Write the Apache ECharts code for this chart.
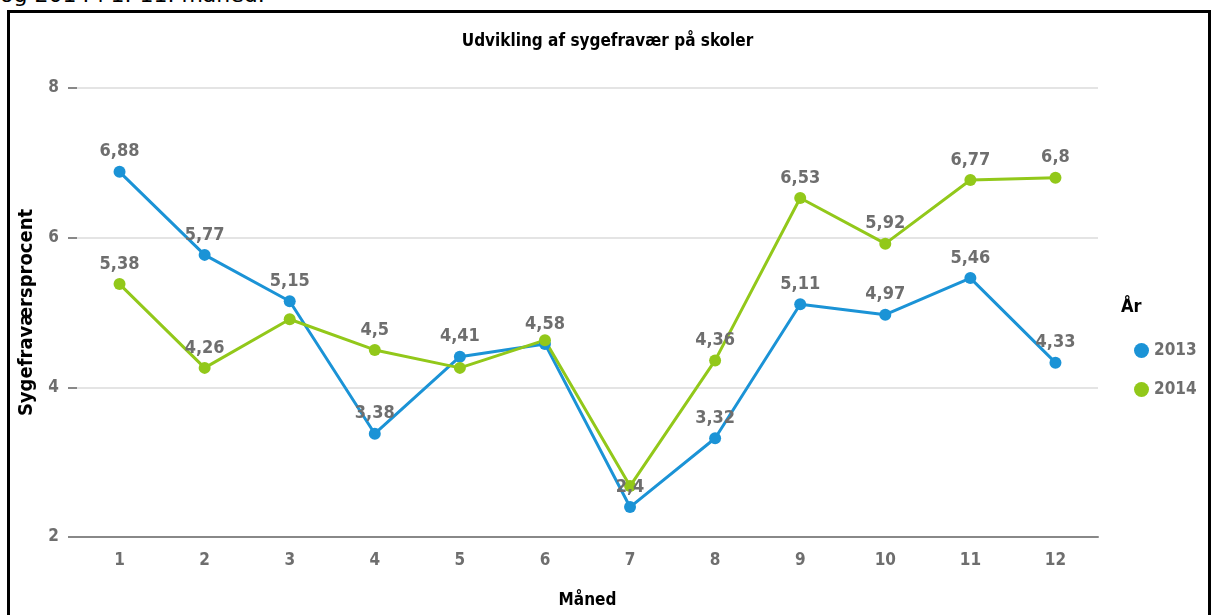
<!DOCTYPE html>
<html>
<head>
<meta charset="utf-8">
<title>Udvikling af sygefravær på skoler</title>
<script src="https://cdn.jsdelivr.net/npm/echarts@6/dist/echarts.min.js"></script>
<style>
  html, body { margin: 0; padding: 0; background: #fff; overflow: hidden; }
  #intro { position: absolute; left: 0; top: -18px; font: 22px/26px "DejaVu Sans", sans-serif; color: #000; white-space: nowrap; }
  #frame { position: absolute; left: 7px; top: 10px; width: 1204px; height: 700px; border: 3px solid #000; box-sizing: border-box; }
  #chart { position: absolute; left: 0; top: 0; width: 1215px; height: 615px; }
</style>
</head>
<body>
<div id="intro">og 2014 i 1.-11. måned.</div>
<div id="frame"></div>
<div id="chart"></div>
<script>
// data
const months = ['1', '2', '3', '4', '5', '6', '7', '8', '9', '10', '11', '12'];
const years = ['2013', '2014'];
const fravaer2013 = [6.88, 5.77, 5.15, 3.38, 4.41, 4.58, 2.4, 3.32, 5.11, 4.97, 5.46, 4.33];
const fravaer2014 = [5.38, 4.26, 4.91, 4.5, 4.26, 4.63, 2.68, 4.36, 6.53, 5.92, 6.77, 6.8];
// labels that the original hides because they overlap
const hidden2014 = [2, 4, 5, 6];

const narrow = "'DejaVu Sans Condensed', sans-serif";
const blue = '#1b93d6';
const green = '#92c81a';

function komma(v) {
  return String(v).replace('.', ',');
}

function buildData(values, hidden) {
  return values.map(function (v, i) {
    if (hidden.includes(i)) {
      return {value: v, label: {show: false}};
    }
    return v;
  });
}

const labelStyle = {
  show: true,
  position: 'top',
  distance: 5,
  fontFamily: narrow,
  fontSize: 18,
  fontWeight: 'bold',
  color: '#6e6e6e',
  formatter: function (p) { return komma(p.value); }
};

const myChart = echarts.init(document.getElementById('chart'), null, {renderer: 'canvas'});

myChart.setOption({
  animation: false,
  title: [{
    text: 'Udvikling af sygefravær på skoler',
    left: 'center',
    top: 28,
    textStyle: {fontFamily: narrow, fontSize: 17, fontWeight: 'bold', color: '#000'}
  }, {
    text: 'År',
    left: 1116,
    top: 293,
    textStyle: {fontFamily: narrow, fontSize: 18, fontWeight: 'bold', color: '#000'}
  }],
  legend: {
    data: years,
    orient: 'vertical',
    left: 1129,
    top: 337,
    itemWidth: 15,
    itemHeight: 15,
    itemGap: 22,
    icon: 'circle',
    textStyle: {fontFamily: narrow, fontSize: 17, fontWeight: 'bold', color: '#6e6e6e'}
  },
  grid: {
    left: 77,
    top: 88,
    width: 1021,
    height: 449
  },
  xAxis: {
    type: 'category',
    data: months,
    boundaryGap: true,
    name: 'Måned',
    nameLocation: 'middle',
    nameGap: 55,
    nameTextStyle: {fontFamily: narrow, fontSize: 17, fontWeight: 'bold', color: '#000'},
    axisLine: {lineStyle: {color: '#888', width: 2}},
    axisTick: {alignWithLabel: true, length: 8, lineStyle: {color: '#888', width: 2}},
    axisLabel: {fontFamily: narrow, fontSize: 17, fontWeight: 'bold', color: '#6e6e6e', margin: 15}
  },
  yAxis: {
    type: 'value',
    min: 2,
    max: 8,
    interval: 2,
    name: 'Sygefraværsprocent',
    nameLocation: 'middle',
    nameGap: 40,
    nameTextStyle: {fontFamily: narrow, fontSize: 20, fontWeight: 'bold', color: '#000'},
    axisLine: {show: false},
    axisTick: {show: true, length: 9, lineStyle: {color: '#888', width: 2}},
    axisLabel: {fontFamily: narrow, fontSize: 17, fontWeight: 'bold', color: '#6e6e6e', margin: 18},
    splitLine: {lineStyle: {color: '#e4e4e4', width: 2}}
  },
  series: [{
    name: '2013',
    type: 'line',
    data: buildData(fravaer2013, []),
    color: blue,
    symbol: 'circle',
    symbolSize: 12,
    lineStyle: {width: 3},
    label: labelStyle
  }, {
    name: '2014',
    type: 'line',
    data: buildData(fravaer2014, hidden2014),
    color: green,
    symbol: 'circle',
    symbolSize: 12,
    lineStyle: {width: 3},
    label: labelStyle
  }]
});
</script>
</body>
</html>
